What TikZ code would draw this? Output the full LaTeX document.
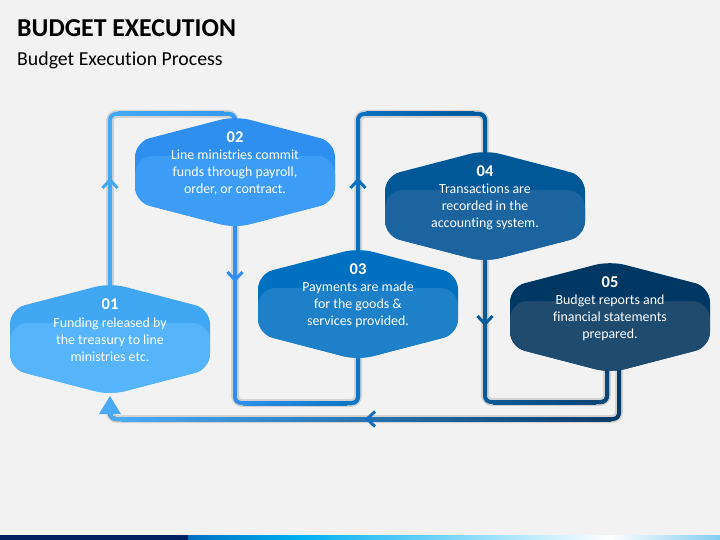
\documentclass[tikz,border=0pt]{standalone}
\usepackage{fontspec}
\setmainfont{Carlito}[Ligatures=NoCommon]
\usetikzlibrary{calc}
\definecolor{bgc}{HTML}{F2F2F2}
\definecolor{t1}{HTML}{42A7F3}\definecolor{b1}{HTML}{55B4FA}
\definecolor{t2}{HTML}{2E8FF0}\definecolor{b2}{HTML}{3D9CF5}
\definecolor{t3}{HTML}{0070C0}\definecolor{b3}{HTML}{1E80C8}
\definecolor{t4}{HTML}{005896}\definecolor{b4}{HTML}{1B64A0}
\definecolor{t5}{HTML}{003864}\definecolor{b5}{HTML}{1E4B6E}
\definecolor{l1}{HTML}{45A8F5}\definecolor{l1b}{HTML}{3699F2}
\definecolor{l2}{HTML}{2F8EEE}\definecolor{l2b}{HTML}{0F76C6}
\definecolor{l3}{HTML}{0A6FBE}\definecolor{l3b}{HTML}{005A9C}
\definecolor{l4}{HTML}{0A5A98}\definecolor{l4b}{HTML}{0A4678}
\definecolor{l5}{HTML}{063C68}\definecolor{l5b}{HTML}{4AAAF5}
\definecolor{chev5}{HTML}{146EBE}
\definecolor{navy}{HTML}{002060}
\definecolor{cyanb}{HTML}{00B0F0}
\definecolor{lightb}{HTML}{82CDF0}
\newcommand\hexoutline{(0,-56) -- (100,-30) -- (100,30) -- (0,56) -- (-100,30) -- (-100,-30) -- cycle}
\newcommand\hexstep[5]{%
  \begin{scope}[shift={(#1)}]
    \begin{scope}
      \clip[rounded corners=15pt] \hexoutline;
      \fill[#2] (-105,-60) rectangle (105,60);
      \fill[#3,rounded corners=18pt] (-100,-16) rectangle (100,90);
    \end{scope}
  \end{scope}
  \node[numtext] (#1n) at ($(#1)+(0,-35)$) {#4};
  \node[bodytext] (#1x) at ($(#1)+(0,1)$) {#5};
}
\begin{document}
\begin{tikzpicture}[x=1pt,y=-1pt,
  link/.style={line width=4pt,rounded corners=6pt},
  linkshadow/.style={line width=8pt,rounded corners=7pt,black,opacity=0.13,xshift=1pt,yshift=-1.5pt},
  chev/.style={line width=3pt,line join=miter},
  numtext/.style={text=white,font=\fontsize{16.5}{18}\selectfont\bfseries,inner sep=0pt},
  bodytext/.style={text=white,font=\fontsize{13.9}{17}\selectfont,align=center,inner sep=0pt}]
\useasboundingbox (0,0) rectangle (720,540);
\fill[bgc] (0,0) rectangle (720,540);
% bottom band
\fill[navy] (0,535) rectangle (188,540);
\shade[left color=t3,right color=cyanb] (188,535) rectangle (300,540);
\shade[left color=cyanb,right color=white] (299.5,535) rectangle (610,540);
\shade[left color=white,right color=lightb] (609.5,535) rectangle (720,540);
% titles
\node[anchor=base west,inner sep=0pt,font=\fontsize{25.8}{30}\selectfont\bfseries] (title) at (17,37) {BUDGET EXECUTION};
\node[anchor=base west,inner sep=0pt,font=\fontsize{19.8}{24}\selectfont] (subtitle) at (17,66) {Budget Execution Process};
% anchor points
\coordinate (p1) at (110,339);
\coordinate (p2) at (235,172);
\coordinate (p3) at (358,304);
\coordinate (p4) at (485,206);
\coordinate (p5) at (610,317);
\coordinate (p5l) at (607,340);
\coordinate (p5r) at (619,340);
\coordinate (a1) at (110,412);
\coordinate (k1a) at (110,114); \coordinate (k1b) at (235,114);
\coordinate (k2a) at (235,403); \coordinate (k2b) at (358,403);
\coordinate (k3a) at (358,114); \coordinate (k3b) at (485,114);
\coordinate (k4a) at (485,402); \coordinate (k4b) at (607,402);
\coordinate (k5a) at (619,419); \coordinate (k5b) at (110,419);
% shadows
\draw[linkshadow] (p1) -- (k1a) -- (k1b) -- (p2);
\draw[linkshadow] (p2) -- (k2a) -- (k2b) -- (p3);
\draw[linkshadow] (p3) -- (k3a) -- (k3b) -- (p4);
\draw[linkshadow] (p4) -- (k4a) -- (k4b) -- (p5l);
\draw[linkshadow] (p5r) -- (k5a) -- (k5b) -- (a1);
% connector 1
\draw[link,l1] (p1) -- (k1a) -- (k1b) -- (p2);
\draw[link,l1b] ($(k1b)+(-12,0)$) -- (k1b) -- (p2);
\shade[left color=l1,right color=l1b] ($(k1a)+(8,-2)$) rectangle ($(k1b)+(-11,2)$);
\draw[chev,l1] (102.5,188) -- (110,180) -- (117.5,188);
% connector 2
\draw[link,l2] (p2) -- (k2a) -- (k2b) -- (p3);
\draw[link,l2b] ($(k2b)+(-12,0)$) -- (k2b) -- (p3);
\shade[left color=l2,right color=l2b] ($(k2a)+(8,-2)$) rectangle ($(k2b)+(-11,2)$);
\draw[chev,l2] (227.5,272) -- (235,280) -- (242.5,272);
% connector 3
\draw[link,l3] (p3) -- (k3a) -- (k3b) -- (p4);
\draw[link,l3b] ($(k3b)+(-12,0)$) -- (k3b) -- (p4);
\shade[left color=l3,right color=l3b] ($(k3a)+(8,-2)$) rectangle ($(k3b)+(-11,2)$);
\draw[chev,l3] (350.5,188) -- (358,180) -- (365.5,188);
% connector 4
\draw[link,l4] (p4) -- (k4a) -- (k4b) -- (p5l);
\draw[link,l4b] ($(k4b)+(-12,0)$) -- (k4b) -- (p5l);
\shade[left color=l4,right color=l4b] ($(k4a)+(8,-2)$) rectangle ($(k4b)+(-11,2)$);
\draw[chev,l4] (477.5,316) -- (485,324) -- (492.5,316);
% connector 5
\draw[link,l5] (p5r) -- (k5a) -- (k5b) -- (a1);
\draw[link,l5b] ($(k5b)+(12,0)$) -- (k5b) -- (a1);
\shade[left color=l5b,right color=l5] ($(k5b)+(11,-2)$) rectangle ($(k5a)+(-8,2)$);
\draw[chev,chev5] (375,411.5) -- (367,419) -- (375,426.5);
\fill[l5b] (a1) ++(0,2) -- ++(-11,0) -- (110,396) -- (121,414) -- cycle;
% steps
\hexstep{p1}{t1}{b1}{01}{Funding released by\\the treasury to line\\ministries etc.}
\hexstep{p2}{t2}{b2}{02}{Line ministries commit\\funds through payroll,\\order, or contract.}
\hexstep{p3}{t3}{b3}{03}{Payments are made\\for the goods \&\\services provided.}
\hexstep{p4}{t4}{b4}{04}{Transactions are\\recorded in the\\accounting system.}
\hexstep{p5}{t5}{b5}{05}{Budget reports and\\financial statements\\prepared.}
\end{tikzpicture}
\end{document}
